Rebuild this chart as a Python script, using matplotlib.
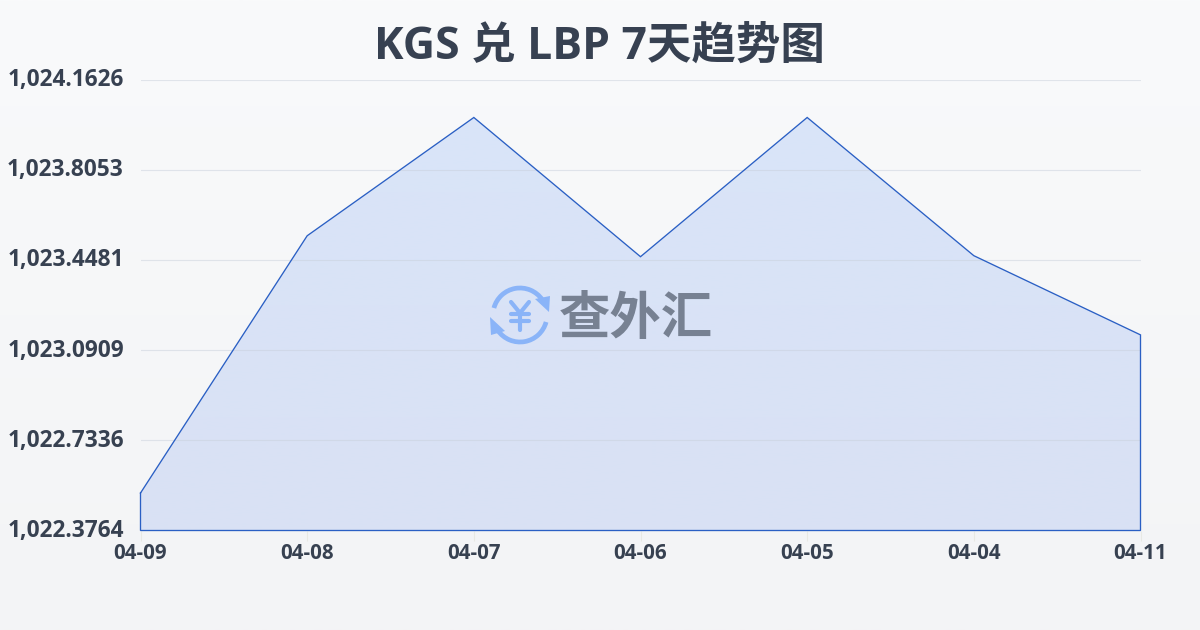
import numpy as np
import matplotlib.pyplot as plt
from matplotlib.patches import Arc, Polygon
from matplotlib.colors import LinearSegmentedColormap
from matplotlib.transforms import ScaledTranslation

plt.rcParams['font.family'] = ['Open Sans', 'Noto Sans CJK SC', 'DejaVu Sans']

dates = ['04-09', '04-08', '04-07', '04-06', '04-05', '04-04', '04-11']
rates = [1022.525, 1023.545, 1024.014, 1023.462, 1024.014, 1023.466, 1023.152]
y_ticks = [1022.3764, 1022.7336, 1023.0909, 1023.4481, 1023.8053, 1024.1626]
title = 'KGS 兑 LBP 7天趋势图'

W, H = 1200, 630
text_color = '#374151'
line_color = '#2a5fc4'

fig = plt.figure(figsize=(W / 100, H / 100), dpi=100)

# page background, light vertical gradient
bg = fig.add_axes([0, 0, 1, 1], zorder=0)
bg_cmap = LinearSegmentedColormap.from_list('bg', ['#f9fafb', '#f3f4f6'])
bg.imshow(np.linspace(0, 1, 256).reshape(-1, 1), aspect='auto', cmap=bg_cmap, extent=[0, 1, 0, 1])
bg.axis('off')

ax = fig.add_axes([140.5 / W, 1 - 530.5 / H, 1000 / W, 450.5 / H], zorder=1)
ax.patch.set_alpha(0)
x = np.arange(len(dates))
ax.set_xlim(0, len(dates) - 1)
ax.set_ylim(y_ticks[0], y_ticks[-1])

# filled area with gradient, clipped to the data outline
outline = list(zip(x, rates)) + [(x[-1], y_ticks[0]), (x[0], y_ticks[0])]
clip = Polygon(outline, closed=True, transform=ax.transData, facecolor='none', edgecolor='none')
ax.add_patch(clip)
fill_cmap = LinearSegmentedColormap.from_list('fill', ['#d9e1f4', '#d9e5f9'])
img = ax.imshow(np.linspace(0, 1, 256).reshape(-1, 1), aspect='auto', cmap=fill_cmap, origin='lower',
                extent=[x[0], x[-1], y_ticks[0], y_ticks[-1]], zorder=1)
img.set_clip_path(clip)

ax.plot(list(x) + [x[-1], x[0], x[0]], rates + [y_ticks[0], y_ticks[0], rates[0]],
        color=line_color, lw=0.95, zorder=3, solid_joinstyle='miter', clip_on=False)

# grid sits over the fill
for v in y_ticks[1:]:
    ax.axhline(v, color='#c9d0dc', alpha=0.5, lw=0.8, zorder=2)

for s in ax.spines.values():
    s.set_visible(False)
ax.set_xticks(x)
ax.set_xticklabels(dates, fontsize=14.8, fontweight='bold', color=text_color)
ax.set_yticks(y_ticks)
ax.set_yticklabels([f'{v:,.4f}' for v in y_ticks], fontsize=16.3, fontweight='bold', color=text_color)
ax.tick_params(axis='x', length=7, width=0.8, color='#e8e9e4', pad=2)
ax.tick_params(axis='y', length=0, pad=12)
shift = ScaledTranslation(0, 2 / 72, fig.dpi_scale_trans)
for lab in ax.get_yticklabels():
    lab.set_transform(lab.get_transform() + shift)

fig.text(599 / W, 1 - 47 / H, title, ha='center', va='center', fontsize=32, fontweight='bold', color=text_color)

# watermark logo, drawn in page pixels
ov = fig.add_axes([0, 0, 1, 1], zorder=2)
ov.set_xlim(0, W)
ov.set_ylim(H, 0)
ov.axis('off')
logo_blue = '#8ab4f8'
cx, cy = 520, 315
ov.add_patch(Arc((cx, cy), 54, 54, theta1=195, theta2=325, color=logo_blue, lw=3.4))
ov.add_patch(Arc((cx, cy), 54, 54, theta1=15, theta2=145, color=logo_blue, lw=3.4))
ov.add_patch(Polygon([(535, 299), (550, 296), (549, 312)], closed=True, color=logo_blue, lw=0))
ov.add_patch(Polygon([(490, 317), (505, 331), (491, 335)], closed=True, color=logo_blue, lw=0))
ov.plot([511, 520, 529], [302, 313, 302], color=logo_blue, lw=3, solid_capstyle='round')
ov.plot([520, 520], [313, 330], color=logo_blue, lw=3, solid_capstyle='round')
ov.plot([511, 529], [314, 314], color=logo_blue, lw=3, solid_capstyle='round')
ov.plot([511, 529], [321, 321], color=logo_blue, lw=3, solid_capstyle='round')
ov.text(636, 321, '查外汇', ha='center', va='center', fontsize=37, fontweight='bold', color='#778192')

fig.savefig('out.png', dpi=100)
